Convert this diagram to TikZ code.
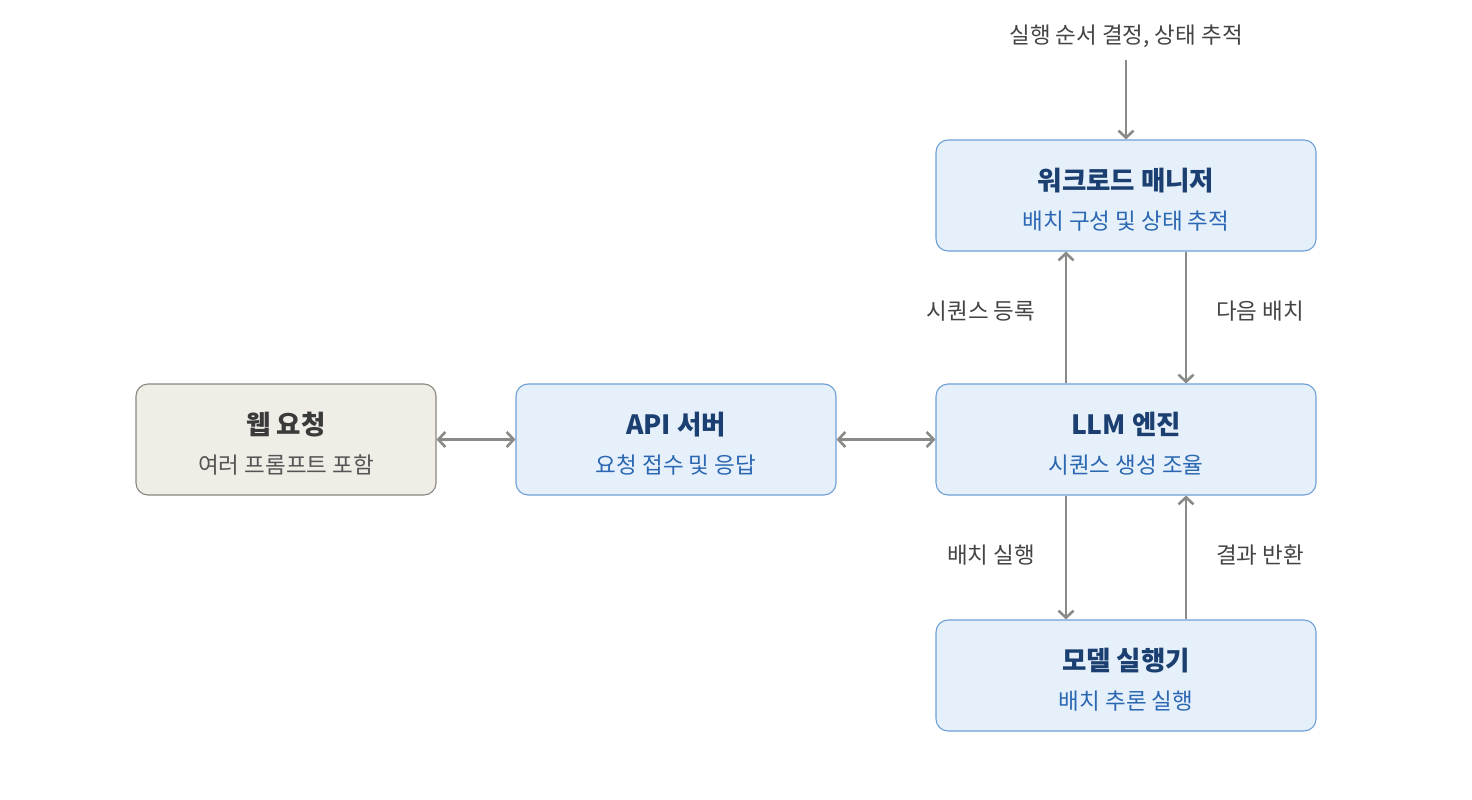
\documentclass[tikz,border=0pt]{standalone}
\usepackage{fontspec}
\setmainfont{Noto Sans CJK KR}
\usetikzlibrary{arrows.meta,calc}
\definecolor{bluefill}{HTML}{E5F0FA}
\definecolor{blueline}{HTML}{6E9FD6}
\definecolor{bluetitle}{HTML}{1A3F70}
\definecolor{bluesub}{HTML}{2B67B2}
\definecolor{grayfill}{HTML}{F0EDE7}
\definecolor{grayline}{HTML}{8A8680}
\definecolor{graytitle}{HTML}{3A3A3A}
\definecolor{graysub}{HTML}{555555}
\definecolor{arrowcol}{HTML}{8A8A86}
\definecolor{labelcol}{HTML}{444444}
\tikzset{
  box/.style={draw, rounded corners=12pt, line width=1.1pt, align=center, inner sep=0pt},
  bluebox/.style={box, fill=bluefill, draw=blueline},
  graybox/.style={box, fill=grayfill, draw=grayline},
  tip/.tip={Straight Barb[length=7pt,width=15pt,line width=2.6pt]},
  arr/.style={draw=arrowcol, line width=2.8pt, -tip},
  darr/.style={draw=arrowcol, line width=2.8pt, tip-tip},
  elabel/.style={text=labelcol, font=\fontsize{22.5}{26}\selectfont},
}
\newcommand{\btitle}[2]{{\color{#1}\fontsize{26.5}{30}\selectfont\bfseries\rule{0pt}{31pt}#2}}
\newcommand{\bsub}[2]{{\color{#1}\fontsize{22.5}{27}\selectfont #2}}
\begin{document}
\begin{tikzpicture}[x=1pt,y=-1pt]
\useasboundingbox (0,0) rectangle (1472,800);
\node[graybox, minimum width=300pt, minimum height=111pt] (web) at (286,439.5)
  {\btitle{graytitle}{웹 요청}\\[17pt]\bsub{graysub}{여러 프롬프트 포함}};
\node[bluebox, minimum width=320pt, minimum height=111pt] (api) at (676,439.5)
  {\btitle{bluetitle}{API 서버}\\[17pt]\bsub{bluesub}{요청 접수 및 응답}};
\node[bluebox, minimum width=380pt, minimum height=111pt] (llm) at (1126,439.5)
  {\btitle{bluetitle}{LLM 엔진}\\[17pt]\bsub{bluesub}{시퀀스 생성 조율}};
\node[bluebox, minimum width=380pt, minimum height=111pt] (wm) at (1126,195.5)
  {\btitle{bluetitle}{워크로드 매니저}\\[17pt]\bsub{bluesub}{배치 구성 및 상태 추적}};
\node[bluebox, minimum width=380pt, minimum height=111pt] (exe) at (1126,675.5)
  {\btitle{bluetitle}{모델 실행기}\\[17pt]\bsub{bluesub}{배치 추론 실행}};

\node[elabel] (top) at (1126,36) {실행 순서 결정, 상태 추적};
\coordinate (topend) at (1126,60);
\draw[arr] (topend) -- (wm.north);

\draw[darr] (web.east) -- (api.west);
\draw[darr] (api.east) -- (llm.west);

\draw[arr] ([xshift=-60pt]llm.north) -- ([xshift=-60pt]wm.south);
\draw[arr] ([xshift=60pt]wm.south) -- ([xshift=60pt]llm.north);
\draw[arr] ([xshift=-60pt]llm.south) -- ([xshift=-60pt]exe.north);
\draw[arr] ([xshift=60pt]exe.north) -- ([xshift=60pt]llm.south);

\node[elabel] (l1) at (981,311) {시퀀스 등록};
\node[elabel] (l2) at (1260,311) {다음 배치};
\node[elabel] (l3) at (991,555) {배치 실행};
\node[elabel] (l4) at (1260,555) {결과 반환};
\end{tikzpicture}
\end{document}
